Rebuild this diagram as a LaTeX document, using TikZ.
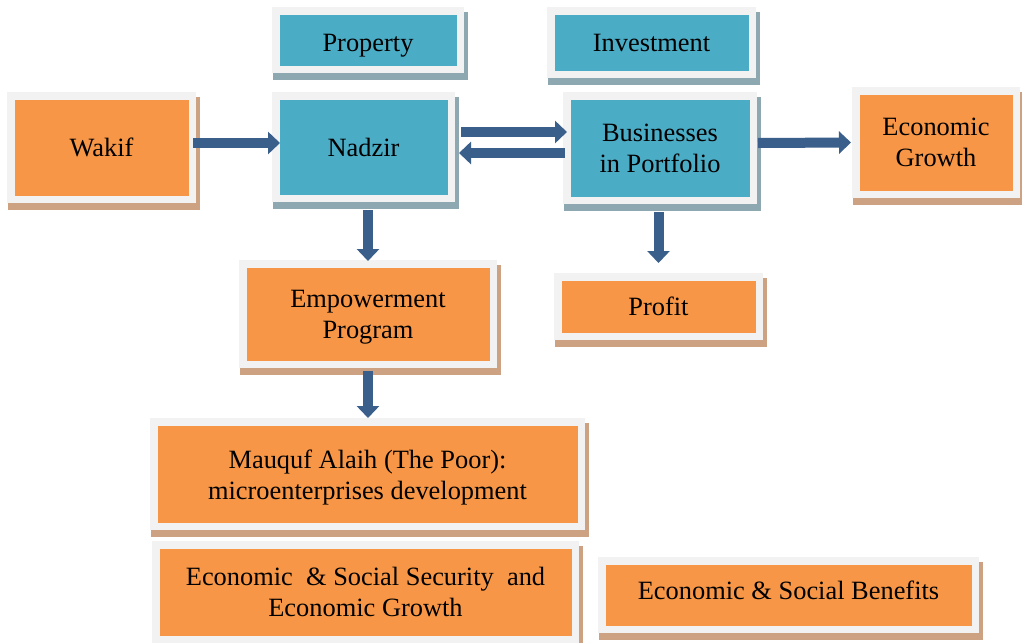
\documentclass[tikz,border=0pt]{standalone}
\usepackage{fontspec}
\setmainfont{Liberation Serif}
\usetikzlibrary{arrows.meta,calc,backgrounds}
% one unit = one pixel of the 1022 x 643 canvas
\newcommand\upx{*0.75pt}
% text block moved vertically without changing its reported size
\newcommand\shifttext[2]{\raisebox{#1}[\height][\depth]{\begin{tabular}{@{}c@{}}#2\end{tabular}}}
\definecolor{orangefill}{HTML}{F79646}
\definecolor{bluefill}{HTML}{4BACC6}
\definecolor{framegray}{HTML}{F2F2F2}
\definecolor{oshadow}{HTML}{CDA283}
\definecolor{bshadow}{HTML}{8DA8B0}
\definecolor{arrowblue}{HTML}{3A5F8B}
\tikzset{
  box/.style={draw=framegray, line width=7.5\upx, inner sep=0pt, align=center,
    font=\fontsize{19.8pt}{23.2pt}\selectfont, text=black},
  obox/.style={box, fill=orangefill},
  bbox/.style={box, fill=bluefill},
  sz/.style 2 args={minimum width=#1\upx, minimum height=#2\upx},
  flow/.style={draw=arrowblue, line width=10\upx,
    -{Triangle[width=16.5pt,length=9pt]}}
}
\begin{document}
\begin{tikzpicture}[x=0.75pt,y=-0.75pt]
\useasboundingbox (0,0) rectangle (1022,643);
\clip (0,0) rectangle (1022,643);

% boxes (anchors sit on the outer edge of the grey frame)
\node[obox, sz={181.5}{103.5}] (wakif)   at (101.5,147.5) {\shifttext{-2.25pt}{Wakif}};
\node[bbox, sz={184.5}{58.5}]  (property) at (368,40)     {\shifttext{-3.75pt}{Property}};
\node[bbox, sz={175.5}{102.5}] (nadzir)  at (363.5,147)   {\shifttext{-2.25pt}{Nadzir}};
\node[bbox, sz={201.5}{63.5}]  (invest)  at (651.5,42.5)  {Investment};
\node[bbox, sz={186.5}{104.5}] (business) at (660,148)    {Businesses\\in Portfolio};
\node[obox, sz={160.5}{103.5}] (growth)  at (936,142.5)   {\shifttext{-1.5pt}{Economic\\Growth}};
\node[obox, sz={250.5}{100.5}] (empower) at (368,314)     {\shifttext{-2.25pt}{Empowerment\\Program}};
\node[obox, sz={201.5}{59.5}]  (profit)  at (658.5,306.5) {Profit};
\node[obox, sz={427.5}{104.5}] (mauquf)  at (367.5,474)   {\shifttext{-3pt}{Mauquf Alaih (The Poor):\\microenterprises development}};
\node[obox, sz={419.5}{94.5}]  (security) at (365.5,592)  {Economic\ \ \& Social Security\ \ and\\Economic Growth};
\node[obox, sz={373.5}{68.5}]  (benefits) at (788.5,595)  {\shifttext{1.5pt}{Economic \& Social Benefits}};

% shadows under the framed boxes
\begin{scope}[on background layer]
  \fill[white] (0,0) rectangle (1022,643);
  \foreach \n/\c in {wakif/oshadow, property/bshadow, nadzir/bshadow,
      invest/bshadow, business/bshadow, growth/oshadow, empower/oshadow,
      profit/oshadow, mauquf/oshadow, security/oshadow, benefits/oshadow}
    \fill[\c] ($(\n.north west)+(1,5)$) rectangle ($(\n.south east)+(3.5,6.5)$);
\end{scope}

% connectors
\draw[flow] ([xshift=-3\upx,yshift=4.5\upx]wakif.east) -- ([xshift=8\upx,yshift=4\upx]nadzir.west);
\draw[flow] ([xshift=6\upx,yshift=15\upx]nadzir.east) -- ([xshift=4\upx,yshift=16\upx]business.west);
\draw[flow] ([xshift=2\upx,yshift=-5\upx]business.west) -- ([xshift=4\upx,yshift=-6\upx]nadzir.east);
\draw[flow] ([xshift=1\upx,yshift=5\upx]business.east) -- ([xshift=-1\upx]growth.west);
\draw[flow] ([yshift=-8\upx]empower.north |- nadzir.south) -- ([yshift=-1\upx]empower.north);
\draw[flow] ([yshift=-3\upx]empower.south) -- (mauquf.north -| empower.south);
\draw[flow] ([yshift=-8\upx]profit.north |- business.south) -- ([yshift=10\upx]profit.north);
\end{tikzpicture}
\end{document}
